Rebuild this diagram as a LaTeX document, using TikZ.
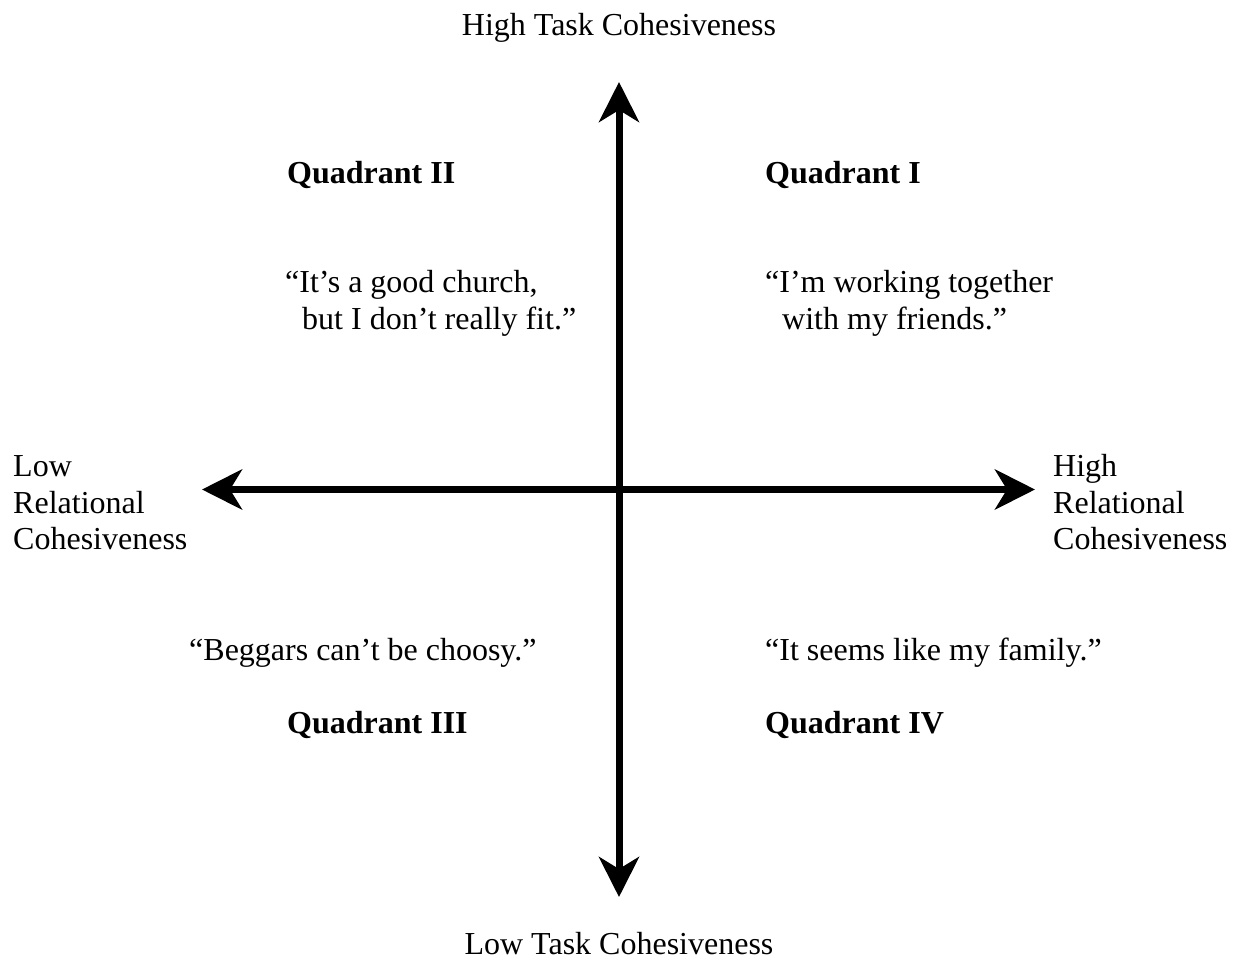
\documentclass[tikz,border=0pt]{standalone}
\usepackage{fontspec}
\setmainfont{Liberation Serif}
\usetikzlibrary{arrows.meta}
\begin{document}
\begin{tikzpicture}[x=1pt,y=-1pt,
  lbl/.style={anchor=base west,inner sep=0pt,font=\fontsize{32}{37}\selectfont},
  quad/.style={lbl,font=\fontsize{32}{37}\selectfont\bfseries},
  axis/.style={line width=7pt,{Stealth[length=40pt,width=40pt,inset=12pt]}-{Stealth[length=40pt,width=40pt,inset=12pt]}}]
\useasboundingbox (0,0) rectangle (1237,959);
\coordinate (top) at (619,82);
\coordinate (bot) at (619,897);
\coordinate (lft) at (202,489.5);
\coordinate (rgt) at (1035,489.5);
\draw[axis] (top) -- (bot);
\draw[axis] (lft) -- (rgt);
\node[lbl,anchor=base] (ht) at (619,35) {High Task Cohesiveness};
\node[lbl,anchor=base] (lt) at (619,954) {Low Task Cohesiveness};
\node[quad] (q2) at (287,183) {Quadrant II};
\node[quad] (q1) at (765,183) {Quadrant I};
\node[quad] (q3) at (287,733) {Quadrant III};
\node[quad] (q4) at (765,733) {Quadrant IV};
\node[lbl] (c2a) at (285,292) {“It’s a good church,};
\node[lbl] (c2b) at (302,329) {but I don’t really fit.”};
\node[lbl] (c1a) at (765,292) {“I’m working together};
\node[lbl] (c1b) at (782,329) {with my friends.”};
\node[lbl] (c3) at (189,660) {“Beggars can’t be choosy.”};
\node[lbl] (c4) at (765,660) {“It seems like my family.”};
\node[lbl] (l1) at (13,476) {Low};
\node[lbl] (l2) at (13,513) {Relational};
\node[lbl] (l3) at (13,549.5) {Cohesiveness};
\node[lbl] (r1) at (1053,476) {High};
\node[lbl] (r2) at (1053,513) {Relational};
\node[lbl] (r3) at (1053,549.5) {Cohesiveness};
\end{tikzpicture}
\end{document}
